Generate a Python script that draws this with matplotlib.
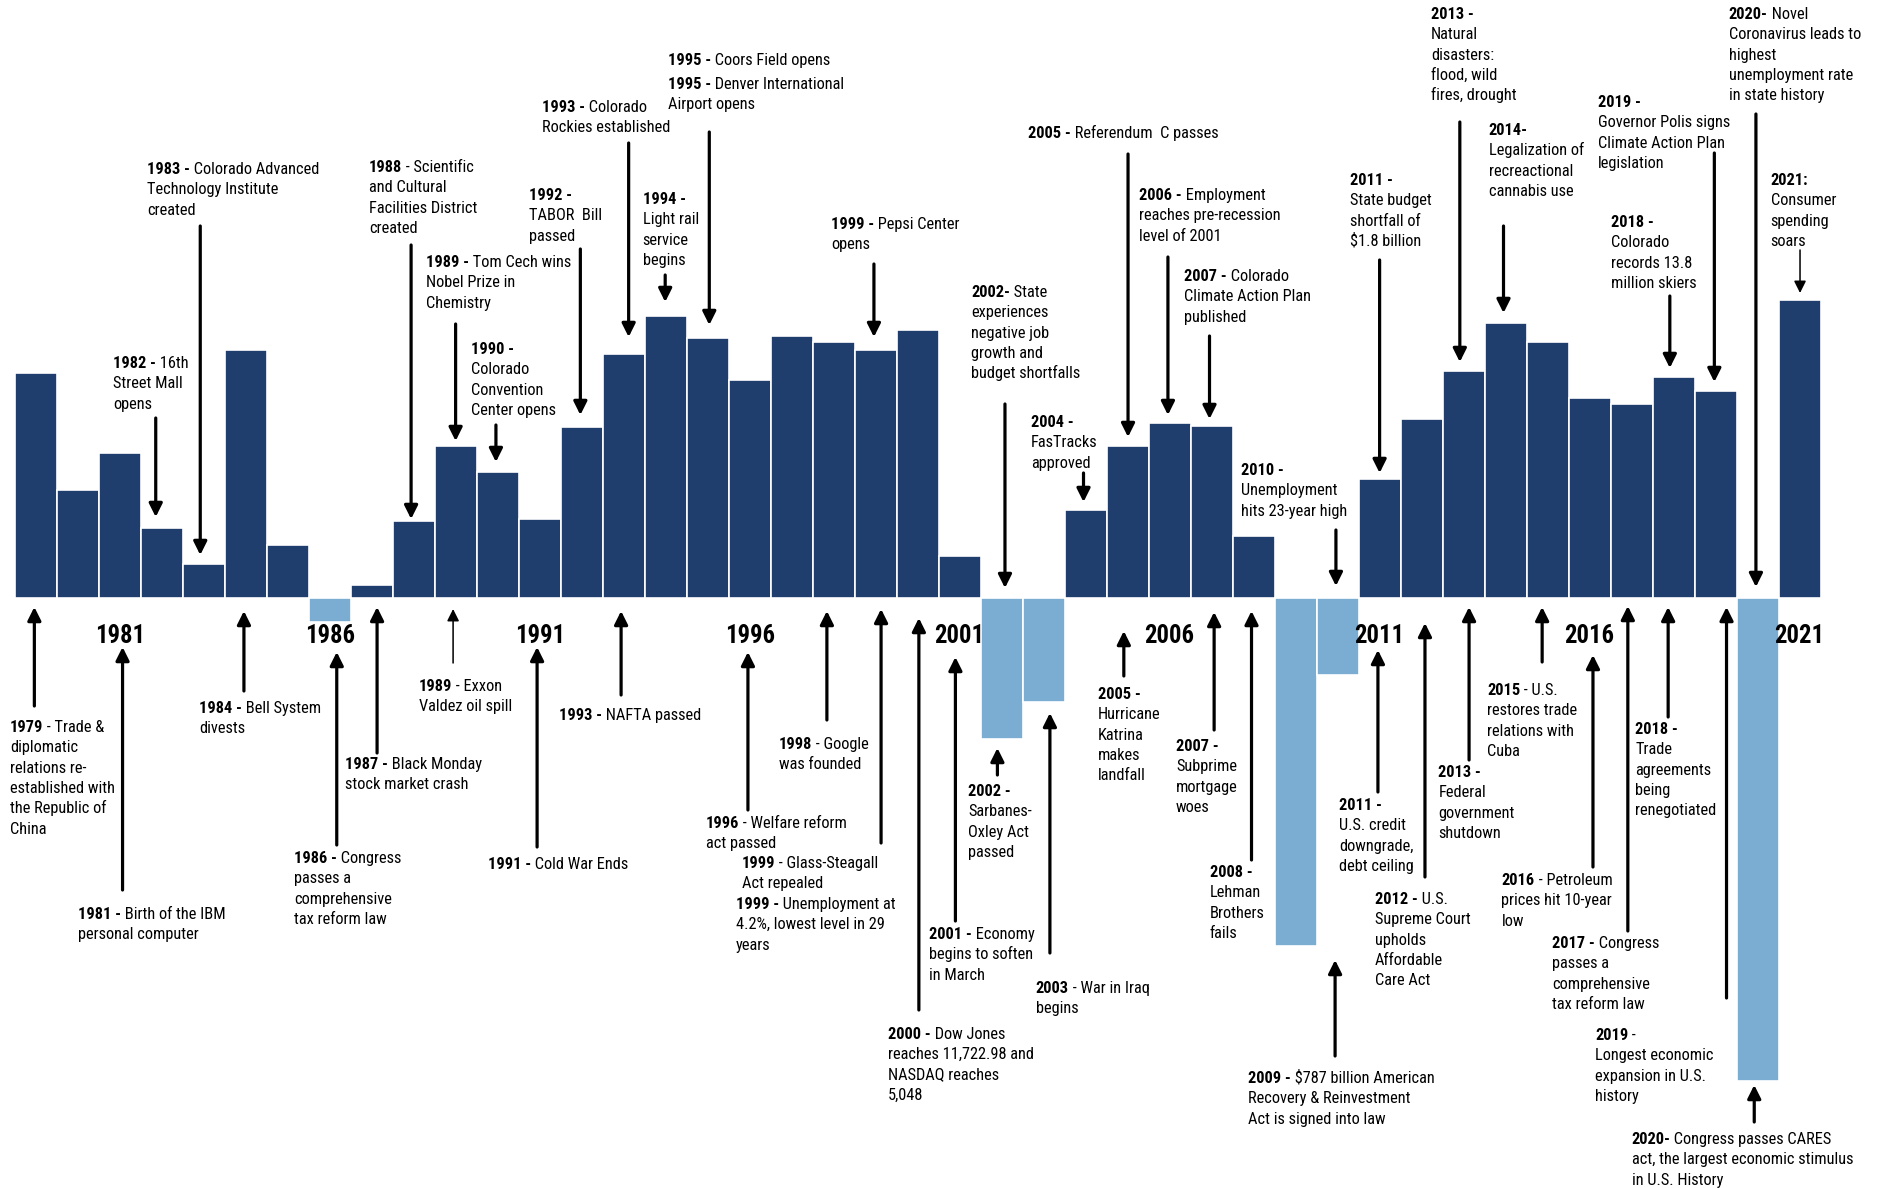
import matplotlib
matplotlib.use("Agg")
import matplotlib.pyplot as plt
from matplotlib import font_manager

# the original uses a condensed face (Arial Narrow); take a narrow one if present
fonts = font_manager.fontManager.ttflist
names = {f.name for f in fonts}
family, stretch = "Liberation Sans", "normal"
for cand in ["Liberation Sans Narrow", "Arial Narrow", "Roboto Condensed", "Open Sans Condensed"]:
    if cand in names:
        family = cand
        break
else:
    if any(f.name == "DejaVu Sans" and f.stretch == "condensed" for f in fonts):
        family, stretch = "DejaVu Sans", "condensed"
plt.rcParams["font.family"] = [family, "DejaVu Sans"]
plt.rcParams["font.stretch"] = stretch

years = list(range(1979, 2022))
job_growth = [225, 108, 145, 70, 34, 248, 53, -24, 13, 77, 152, 126, 79, 171, 244,
              282, 260, 218, 262, 256, 248, 268, 42, -141, -104, 88, 152, 175, 172, 62,
              -348, -77, 119, 179, 227, 275, 256, 200, 194, 221, 207, -483, 298]
year_labels = [1981, 1986, 1991, 1996, 2001, 2006, 2011, 2016, 2021]

# (bold part, rest, text x, text top, arrow x, arrow tail, arrow tip, thin)
top_notes = [
    ("1982 -", " 16th\nStreet Mall\nopens", 1980.84, 242, 1981.86, 180, 81, False),
    ("1983 -", " Colorado Advanced\nTechnology Institute\ncreated", 1981.65, 436, 1982.92, 372, 43, False),
    ("1988", " - Scientific\nand Cultural\nFacilities District\ncreated", 1986.94, 438, 1987.94, 353, 79, False),
    ("1989 -", " Tom Cech wins\nNobel Prize in\nChemistry", 1988.30, 343, 1989.00, 274, 157, False),
    ("1990 -", "\nColorado\nConvention\nCenter opens", 1989.37, 256, 1989.96, 173, 136, False),
    ("1992 -", "\nTABOR  Bill\npassed", 1990.74, 410, 1991.97, 349, 183, False),
    ("1993 -", " Colorado\nRockies established", 1991.06, 498, 1993.12, 455, 261, False),
    ("1994 -", "\nLight rail\nservice\nbegins", 1993.45, 406, 1993.99, 323, 296, False),
    ("1995 -", " Coors Field opens", 1994.06, 545, None, None, None, False),
    ("1995 -", " Denver International\nAirport opens", 1994.06, 521, 1995.04, 466, 273, False),
    ("1999 -", " Pepsi Center\nopens", 1997.94, 381, 1998.96, 334, 261, False),
    ("2002-", " State\nexperiences\nnegative job\ngrowth and\nbudget shortfalls", 2001.27, 313, 2002.08, 194, 10, False),
    ("2004 -", "\nFasTracks\napproved", 2002.70, 183, 2003.95, 125, 96, False),
    ("2005 -", " Referendum  C passes", 2002.63, 472, 2005.01, 444, 161, False),
    ("2006 -", " Employment\nreaches pre-recession\nlevel of 2001", 2005.27, 410, 2005.96, 341, 183, False),
    ("2007 -", " Colorado\nClimate Action Plan\npublished", 2006.34, 329, 2006.95, 262, 179, False),
    ("2010 -", "\nUnemployment\nhits 23-year high", 2007.69, 135, 2009.96, 68, 12, False),
    ("2011 -", "\nState budget\nshortfall of\n$1.8 billion", 2010.29, 425, 2011.00, 338, 125, False),
    ("2013 -", "\nNatural\ndisasters:\nflood, wild\nfires, drought", 2012.22, 591, 2012.91, 476, 236, False),
    ("2014-", "\nLegalization of\nrecreactional\ncannabis use", 2013.60, 475, 2013.95, 372, 285, False),
    ("2019 -", "\nGovernor Polis signs\nClimate Action Plan\nlegislation", 2016.19, 503, 2018.97, 445, 216, False),
    ("2018 -", "\nColorado\nrecords 13.8\nmillion skiers", 2016.50, 383, 2017.91, 302, 230, False),
    ("2020-", " Novel\nCoronavirus leads to\nhighest\nunemployment rate\nin state history", 2019.31, 591, 2019.96, 484, 11, False),
    ("2021:", "\nConsumer\nspending\nsoars", 2020.31, 425, 2021.01, 348, 305, True),
]

bottom_notes = [
    ("1979", " - Trade &\ndiplomatic\nrelations re-\nestablished with\nthe Republic of\nChina", 1978.39, -122, 1978.97, -108, -9, False),
    ("1981 -", " Birth of the IBM\npersonal computer", 1980.02, -309, 1981.07, -292, -49, False),
    ("1984 -", " Bell System\ndivests", 1982.89, -103, 1983.96, -93, -13, False),
    ("1986 -", " Congress\npasses a\ncomprehensive\ntax reform law", 1985.15, -253, 1986.17, -247, -54, False),
    ("1987 -", " Black Monday\nstock market crash", 1986.37, -159, 1987.13, -155, -9, False),
    ("1989", " - Exxon\nValdez oil spill", 1988.13, -81, 1988.94, -65, -11, True),
    ("1991 -", " Cold War Ends", 1989.77, -259, 1990.94, -249, -49, False),
    ("1993 -", " NAFTA passed", 1991.46, -110, 1992.94, -97, -13, False),
    ("1996", " - Welfare reform\nact passed", 1994.95, -218, 1995.96, -212, -54, False),
    ("1998", " - Google\nwas founded", 1996.70, -139, 1997.84, -122, -13, False),
    ("1999", " - Glass-Steagall\nAct repealed", 1995.81, -258, 1999.13, -245, -11, False),
    ("1999 -", " Unemployment at\n4.2%, lowest level in 29\nyears", 1995.68, -299, None, None, None, False),
    ("2000 -", " Dow Jones\nreaches 11,722.98 and\nNASDAQ reaches\n5,048", 1999.30, -429, 2000.03, -412, -20, False),
    ("2001 -", " Economy\nbegins to soften\nin March", 2000.27, -329, 2000.90, -323, -59, False),
    ("2002 -", "\nSarbanes-\nOxley Act\npassed", 2001.20, -186, 2001.90, -177, -150, False),
    ("2003", " - War in Iraq\nbegins", 2002.81, -383, 2003.15, -355, -115, False),
    ("2005 -", "\nHurricane\nKatrina\nmakes\nlandfall", 2004.30, -89, 2004.91, -78, -33, False),
    ("2007 -", "\nSubprime\nmortgage\nwoes", 2006.15, -141, 2007.06, -132, -14, False),
    ("2008 -", "\nLehman\nBrothers\nfails", 2006.96, -267, 2007.95, -262, -13, False),
    ("2009 -", " $787 billion American\nRecovery & Reinvestment\nAct is signed into law", 2007.87, -473, 2009.94, -458, -362, False),
    ("2011 -", "\nU.S. credit\ndowngrade,\ndebt ceiling", 2010.03, -200, 2010.96, -194, -52, False),
    ("2012 -", " U.S.\nSupreme Court\nupholds\nAffordable\nCare Act", 2010.89, -294, 2012.08, -279, -25, False),
    ("2013 -", "\nFederal\ngovernment\nshutdown", 2012.40, -167, 2013.13, -162, -9, False),
    ("2015", " - U.S.\nrestores trade\nrelations with\nCuba", 2013.56, -85, 2014.87, -64, -9, False),
    ("2016", " - Petroleum\nprices hit 10-year\nlow", 2013.90, -275, 2016.08, -269, -57, False),
    ("2017 -", " Congress\npasses a\ncomprehensive\ntax reform law", 2015.10, -338, 2016.91, -333, -8, False),
    ("2018 -", "\nTrade\nagreements\nbeing\nrenegotiated", 2017.09, -124, 2017.87, -119, -9, False),
    ("2019", " -\nLongest economic\nexpansion in U.S.\nhistory", 2016.13, -430, 2019.26, -400, -9, False),
    ("2020-", " Congress passes CARES\nact, the largest economic stimulus\nin U.S. History", 2017.00, -534, 2019.92, -524, -487, False),
]

DARK = "#1f3d6d"
LIGHT = "#7badd3"
LINE = 20.4   # line advance in y units (1 unit = 1 px here)

fig = plt.figure(figsize=(18.86, 11.88), dpi=100)
ax = fig.add_axes([0, 0, 1, 1])
ax.set_xlim(1978.152, 2023.057)
ax.set_ylim(-590, 598)
ax.axis("off")

renderer = fig.canvas.get_renderer()


def text_width(s, size, weight):
    t = ax.text(0, 0, s, fontsize=size, fontweight=weight)
    w = t.get_window_extent(renderer=renderer).width
    t.remove()
    return w


# size the text so that line widths match the narrow face of the original
FS = min(13.0, 13.0 * 131 / text_width("Technology Institute", 13, "normal"))
YFS = min(20.0, 20.0 * 50 / text_width("1981", 20, "bold"))
CAP = 0.72 * FS * 100 / 72

colors = [DARK if v >= 0 else LIGHT for v in job_growth]
ax.bar(years, job_growth, width=1.0, color=colors, edgecolor="white", linewidth=1.2)

for y in year_labels:
    ax.text(y, -45, str(y), fontsize=YFS, fontweight="bold", ha="center", va="baseline")


def note(bold, rest, x, top):
    lines = rest.split("\n")
    base = top - CAP
    t = ax.text(x, base, bold, fontsize=FS, fontweight="bold", ha="left", va="baseline")
    if lines[0]:
        ax.annotate(lines[0], xy=(1, 0), xycoords=t, fontsize=FS, ha="left", va="bottom")
    for k, line in enumerate(lines[1:], start=1):
        ax.text(x, base - LINE * k, line, fontsize=FS, ha="left", va="baseline")


def arrow(x, tail, tip, thin):
    ax.annotate("", xy=(x, tip), xytext=(x, tail),
                arrowprops=dict(arrowstyle="-|>", color="black",
                                lw=1.1 if thin else 2.3, mutation_scale=18 if thin else 20,
                                shrinkA=0, shrinkB=0))


for bold, rest, tx, ty, ax_x, a0, a1, thin in top_notes + bottom_notes:
    note(bold, rest, tx, ty)
    if ax_x is not None:
        arrow(ax_x, a0, a1, thin)

fig.savefig("out.png", dpi=100)
